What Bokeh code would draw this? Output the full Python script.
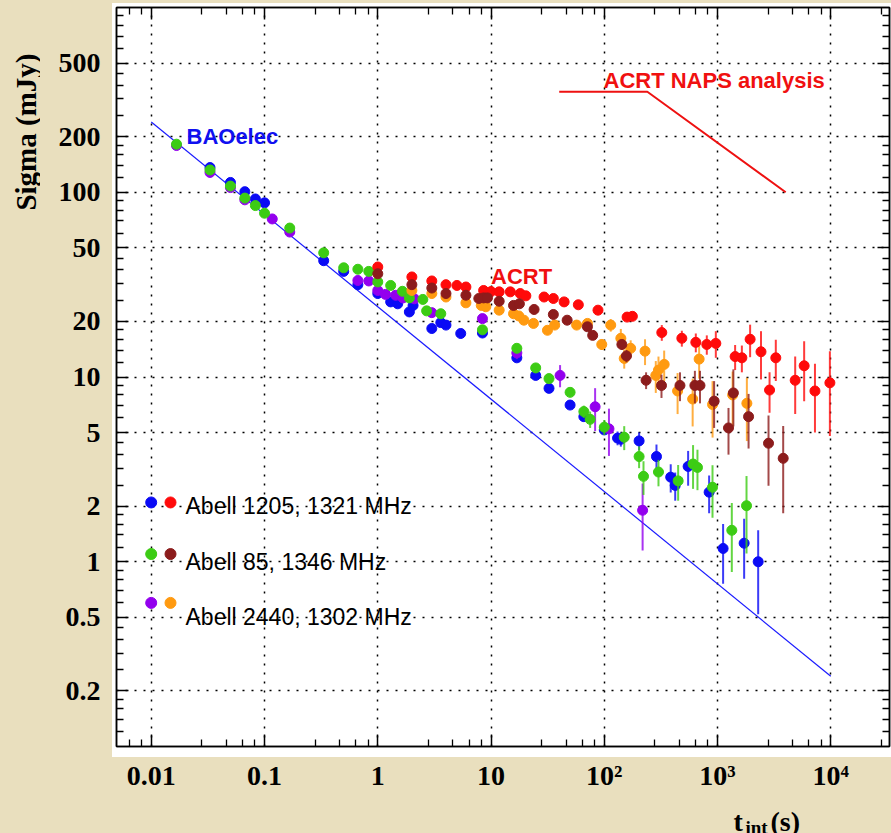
import math
from bokeh.plotting import figure
from bokeh.layouts import row, column
from bokeh.models import (Range1d, FixedTicker, LogAxis, Label,
                          ColumnDataSource, CustomJSTickFormatter)
from bokeh.embed import file_html
from bokeh.resources import INLINE

# ---------------- data ----------------
# Abell 1205, BAOelec (blue)
t_blue = [0.033, 0.05, 0.067, 0.083, 0.1, 0.333, 0.5, 0.667, 1.0, 1.3, 1.5, 1.9, 2.05, 3.0, 3.6, 4.0,
          5.4, 8.4, 16.9, 24.8, 32.5, 49.9, 66, 100, 131, 140, 203, 289, 386, 423, 550, 843, 1120, 1718, 2285]
s_blue = [136, 113, 100.7, 92, 87.6, 42.6, 37.3, 31.6, 28.3, 25.5, 24.9, 22.5, 24.4, 18.3, 19.7, 19.1,
          17.2, 17.3, 12.7, 10.2, 8.68, 7.05, 6.1, 5.17, 4.67, 4.6, 4.51, 3.71, 2.87, 2.59, 3.28, 2.38, 1.18, 1.26, 1.0]
e_blue = [0, 0, 0, 0, 0, 0, 0, 0, 0, 0, 0, 0, 0, 0, 0, 0,
          1.0, 0, 0, 0, 0, 0, 0.3, 0.3, 0.4, 0.4, 0.5, 0.6, 0.5, 0.45, 0.7, 0.55, 0.42, 0.45, 0.48]

# Abell 85, BAOelec (green)
t_green = [0.0167, 0.033, 0.05, 0.067, 0.083, 0.1, 0.167, 0.333, 0.5, 0.667, 0.833, 1.0, 1.3, 1.65, 1.9,
           2.5, 2.7, 3.6, 8.4, 16.9, 24.8, 32.5, 49.9, 66, 75, 100, 150, 203, 222, 301, 449, 608, 665,
           903, 1337, 1803]
s_green = [182, 132, 108, 93, 84.7, 77, 64, 47, 39, 38.3, 37.3, 32.7, 31.3, 29.1, 26.8,
           26.3, 22.8, 22.0, 18.0, 14.3, 11.2, 9.8, 8.26, 6.5, 5.9, 5.35, 4.72, 3.71, 2.9, 3.06, 2.74, 3.38, 3.24,
           2.53, 1.48, 2.01]
e_green = [0, 0, 0, 0, 0, 0, 0, 0, 0, 0, 0, 0, 0, 0, 0,
           0, 0, 0, 0, 0.6, 0.5, 0.4, 0.4, 0.5, 0.6, 0.5, 0.7, 0.5, 0.6, 0.5, 0.6, 0.9, 0.8,
           0.8, 0.6, 0.9]

# Abell 2440, BAOelec (purple)
t_purple = [0.0167, 0.033, 0.05, 0.067, 0.117, 0.167, 0.667, 0.833, 1.0, 1.17, 1.44, 1.67, 2.1, 3.0,
            8.4, 16.9, 40.7, 83, 110, 218]
s_purple = [179, 128, 106, 91, 71.7, 60.9, 33.3, 33.1, 29.4, 28.0, 27.7, 26.8, 26.5, 22.3,
            20.7, 13.5, 10.2, 6.9, 5.24, 1.9]
e_purple = [0, 0, 0, 0, 0, 0, 0, 0, 0, 0, 0, 0, 0, 0,
            0, 1.0, 1.4, 1.8, 1.5, 0.75]

# Abell 1205, ACRT (red)
t_red = [1.0, 2.0, 3.0, 4.0, 5.0, 6.0, 8.6, 10.0, 11.8, 14.8, 18.1, 20.3, 29.4, 35.5, 44.2, 59, 88, 159, 177,
         322, 484, 643, 804, 966, 1430, 1640, 1940, 2420, 2880, 3270, 4850, 5820, 7250, 9820]
s_red = [39.4, 34.8, 33.1, 31.6, 31.3, 30.7, 29.4, 29.0, 28.9, 28.9, 28.3, 27.5, 27.1, 26.6, 25.5, 24.6, 23.0,
         21.1, 21.3, 17.4, 16.2, 15.4, 15.0, 15.2, 12.9, 12.7, 16.0, 13.7, 8.5, 12.7, 9.6, 11.5, 8.4, 9.3]
e_red = [0, 0, 0, 0, 0, 0, 0, 0, 0, 0, 0, 0, 0, 0, 0, 0, 0, 0, 0,
         1.7, 1.6, 1.8, 1.8, 2.5, 2.0, 2.1, 3.2, 4.0, 2.1, 3.2, 3.3, 4.1, 3.4, 4.5]

# Abell 85, ACRT (brown)
t_brown = [1.0, 2.0, 3.0, 4.0, 6.0, 7.8, 8.6, 9.3, 11.8, 15.8, 17.8, 24, 35.5, 47, 71, 79, 143, 157,
           234, 320, 466, 631, 700, 933, 1250, 1380, 1880, 2820, 3800]
s_brown = [36.2, 31.6, 30.3, 28.3, 27.7, 26.6, 26.8, 26.8, 25.7, 24.4, 24.9, 23.2, 21.8, 20.3, 18.7, 16.8, 15.0,
           13.0, 9.6, 9.0, 9.0, 9.0, 9.0, 7.4, 5.3, 8.2, 6.1, 4.38, 3.63]
e_brown = [0, 0, 0, 0, 0, 0, 0, 0, 0, 0, 0, 0, 0, 0, 0, 0, 1.0, 1.0,
           1.0, 1.3, 1.6, 1.8, 1.8, 2.1, 1.5, 2.8, 2.0, 1.8, 1.8]

# Abell 2440, ACRT (orange)
t_orange = [2.0, 3.0, 4.0, 6.0, 8.2, 9.0, 11.8, 15.8, 17.6, 19.5, 23.7, 31.5, 36.5, 57, 71, 95, 114, 140,
            150, 171, 229, 285, 301, 338, 444, 603, 688, 904, 1360, 1816]
s_orange = [29.4, 28.3, 27.1, 25.2, 24.4, 24.0, 23.0, 22.0, 21.4, 20.3, 19.5, 17.9, 19.1, 19.1, 19.5, 15.0,
            19.1, 16.2, 12.6, 14.3, 13.8, 10.2, 10.9, 11.7, 8.4, 7.6, 12.5, 7.1, 8.0, 7.2]
e_orange = [0, 0, 0, 0, 0, 0, 0, 0, 0, 0, 0, 0, 0, 0.8, 1.0, 1.0, 1.5, 2.0,
            1.5, 1.5, 2.2, 2.0, 2.0, 2.2, 2.1, 2.2, 2.7, 2.4, 2.7, 2.7]

# reference lines
bao_t = [0.01, 10000]
bao_sigma = [240, 0.24]
naps_t = [40, 240, 4000]
naps_sigma = [350, 350, 100]

# axes
x_ticks = [0.01, 0.1, 1, 10, 100, 1000, 10000]
x_tick_labels = ["0.01", "0.1", "1", "10", "10\u00b2", "10\u00b3", "10\u2074"]
y_ticks = [0.2, 0.5, 1, 2, 5, 10, 20, 50, 100, 200, 500]
y_tick_labels = ["0.2", "0.5", "1", "2", "5", "10", "20", "50", "100", "200", "500"]

legend_labels = ["Abell 1205, 1321 MHz", "Abell 85, 1346 MHz", "Abell 2440, 1302 MHz"]

# ---------------- styling ----------------
C_BLUE = "#0a0af5"
C_GREEN = "#3ccc14"
C_PURPLE = "#9300ee"
C_RED = "#ff0a0a"
C_BROWN = "#8c1c1c"
C_ORANGE = "#ff9a10"
BEIGE = "#e9dfbe"
SANS = "Liberation Sans"
SERIF = "Liberation Serif"

X0, X1 = 0.00493, 33000.0
Y0, Y1 = 0.1, 1000.0
LEFT_W = 40                                  # width of the left title strip
FL, FT, FW, FH = 116.0, 7.0, 773.0, 741.0    # frame position on the page (px)
MAIN_H = 793                                 # height of the main figure
PAGE_W, PAGE_H = 891, 833


def xd(px):
    lx0, lx1 = math.log10(X0), math.log10(X1)
    return 10 ** (lx0 + (px - FL) / FW * (lx1 - lx0))


def yd(py):
    ly0, ly1 = math.log10(Y0), math.log10(Y1)
    return 10 ** (ly1 - (py - FT) / FH * (ly1 - ly0))


def minors(bounds, n=5):
    out = []
    for a, b in zip(bounds[:-1], bounds[1:]):
        step = (b - a) / n
        out += [a + step * i for i in range(1, n)]
    return out


x_minor = minors([10.0 ** k for k in range(-3, 6)])
y_minor = minors([0.1] + y_ticks + [1000])

p = figure(width=PAGE_W - LEFT_W, height=MAIN_H,
           x_axis_type="log", y_axis_type="log",
           x_range=Range1d(X0, X1), y_range=Range1d(Y0, Y1),
           output_backend="svg", toolbar_location=None,
           min_border_left=int(FL) - LEFT_W, min_border_right=PAGE_W - int(FL + FW),
           min_border_top=int(FT), min_border_bottom=MAIN_H - int(FT + FH))
p.background_fill_color = "white"
p.border_fill_alpha = 0
p.outline_line_color = "black"
p.outline_line_width = 1.5
p.align = "start"

p.add_layout(LogAxis(), "above")
p.add_layout(LogAxis(), "right")

xt = FixedTicker(ticks=x_ticks, minor_ticks=x_minor)
yt = FixedTicker(ticks=y_ticks, minor_ticks=y_minor)

for ax in list(p.xaxis) + list(p.yaxis):
    ax.axis_line_color = "black"
    ax.axis_line_width = 1.5
    ax.major_tick_in = 12
    ax.major_tick_out = 0
    ax.minor_tick_in = 7
    ax.minor_tick_out = 0
    ax.major_tick_line_color = "black"
    ax.minor_tick_line_color = "black"
    ax.major_tick_line_width = 1.5
    ax.minor_tick_line_width = 1.3
    ax.major_label_text_font = SERIF
    ax.major_label_text_font_style = "bold"
    ax.major_label_text_font_size = "28px"
    ax.major_label_text_color = "black"
for ax in p.xaxis:
    ax.ticker = xt
for ax in p.yaxis:
    ax.ticker = yt

p.below[0].major_label_overrides = dict(zip(x_ticks, x_tick_labels))
p.below[0].major_label_standoff = 13
p.left[0].major_label_overrides = dict(zip(y_ticks, y_tick_labels))
p.left[0].major_label_standoff = 16
for ax in (p.above[0], p.right[0]):
    ax.formatter = CustomJSTickFormatter(code="return ''")
    ax.major_label_text_font_size = "1px"
    ax.major_label_standoff = 0

p.xgrid.ticker = xt
p.ygrid.ticker = yt
for g in (p.xgrid, p.ygrid):
    g.grid_line_color = "black"
    g.grid_line_width = 1.5
    g.grid_line_dash = "2 7"

# reference lines
p.line(bao_t, bao_sigma, line_color="#1a1aff", line_width=1.2)
p.line(naps_t, naps_sigma, line_color="#ee1111", line_width=2)


def series(t, s, e, color):
    tt = [a for a, b in zip(t, e) if b > 0]
    lo = [v - b for v, b in zip(s, e) if b > 0]
    hi = [v + b for v, b in zip(s, e) if b > 0]
    src = ColumnDataSource(dict(x=tt, y0=lo, y1=hi))
    p.segment(x0="x", y0="y0", x1="x", y1="y1", source=src, line_color=color,
              line_width=2, line_alpha=0.8)
    p.scatter(t, s, marker="circle", size=10, fill_color=color, line_color=color)


series(t_blue, s_blue, e_blue, C_BLUE)
series(t_purple, s_purple, e_purple, C_PURPLE)
series(t_green, s_green, e_green, C_GREEN)
series(t_orange, s_orange, e_orange, C_ORANGE)
series(t_red, s_red, e_red, C_RED)
series(t_brown, s_brown, e_brown, C_BROWN)

# text annotations
p.add_layout(Label(x=xd(186), y=yd(136), text="BAOelec", text_font=SANS, text_font_style="bold",
                   text_font_size="22px", text_color="#1010f0", text_baseline="alphabetic"))
p.add_layout(Label(x=xd(490.5), y=yd(276.5), text="ACRT", text_font=SANS, text_font_style="bold",
                   text_font_size="22px", text_color="#f01010", text_baseline="alphabetic"))
p.add_layout(Label(x=xd(603), y=yd(80), text="ACRT NAPS analysis", text_font=SANS,
                   text_font_style="bold", text_font_size="22px", text_color="#f01010",
                   text_baseline="alphabetic"))

# legend
leg_rows_py = [503.3, 555.0, 604.0]
leg_text_py = [507.3, 563.3, 618.3]
leg_colors = [(C_BLUE, C_RED), (C_GREEN, C_BROWN), (C_PURPLE, C_ORANGE)]
for row_py, txt_py, (c1, c2), lab in zip(leg_rows_py, leg_text_py, leg_colors, legend_labels):
    p.scatter([xd(150.7), xd(170.0)], [yd(row_py), yd(row_py)], marker="circle", size=11,
              fill_color=[c1, c2], line_color=[c1, c2])
    p.add_layout(Label(x=xd(185), y=yd(txt_py), text=lab, text_font=SANS, text_font_size="23px",
                       text_color="black", text_baseline="alphabetic"))


def strip(w, h, xr, yr):
    f = figure(width=w, height=h, x_range=Range1d(*xr), y_range=Range1d(*yr),
               x_axis_location=None, y_axis_location=None, toolbar_location=None,
               output_backend="svg", min_border=0)
    f.grid.visible = False
    f.outline_line_color = None
    f.background_fill_alpha = 0
    f.border_fill_alpha = 0
    f.align = "start"
    return f


# y-axis title (left strip; its frame covers page x 0..40, y 0..833)
pl = strip(LEFT_W, PAGE_H, (0, LEFT_W), (PAGE_H, 0))
pl.add_layout(Label(x=25, y=53, text="Sigma (mJy)", text_font=SERIF, text_font_style="bold",
                    text_font_size="29px", angle=math.pi / 2, text_align="right",
                    text_baseline="middle", text_color="black"))

# x-axis title (bottom strip; the column aligns its frame with the main frame: page x 116..889).
# Texts are anchored at the strip's top edge (y = 1) and moved down by a pixel offset.
pb = strip(PAGE_W - LEFT_W, PAGE_H - MAIN_H, (FL, FL + FW), (0, 1))


def title_part(px, baseline_py, text, size):
    pb.add_layout(Label(x=px, y=1, y_offset=-(baseline_py - MAIN_H), text=text, text_font=SERIF,
                        text_font_style="bold", text_font_size=size,
                        text_baseline="alphabetic", text_color="black"))


title_part(733, 821, "t", "28px")
title_part(745, 827, "int", "19px")
title_part(770, 821, "(s)", "28px")

layout = row(pl, column(p, pb, spacing=0), spacing=0)

html = file_html(layout, INLINE)
css = ("<style>html { background: linear-gradient(#ffffff, #ffffff) 112px 3px / 779px 754px no-repeat, %s; }"
       " body { background: transparent; }</style>" % BEIGE)
i = html.rfind("</head>")
html = html[:i] + css + html[i:]
open("out.html", "w").write(html)
